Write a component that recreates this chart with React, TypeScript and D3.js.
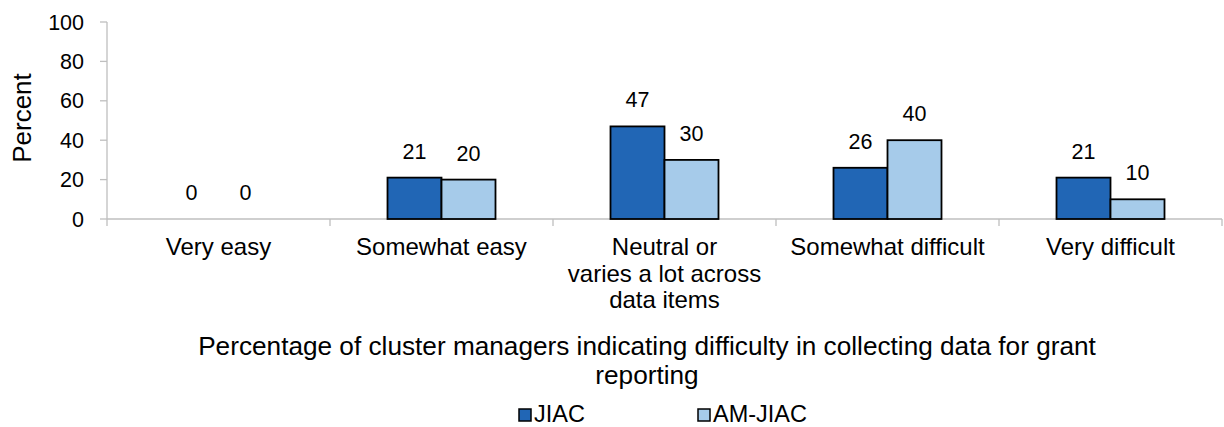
import React from "react";
import * as d3 from "d3";

const categories: string[][] = [
  ["Very easy"],
  ["Somewhat easy"],
  ["Neutral or", "varies a lot across", "data items"],
  ["Somewhat difficult"],
  ["Very difficult"],
];
const seriesNames = ["JIAC", "AM-JIAC"];
const jiac = [0, 21, 47, 26, 21];
const amJiac = [0, 20, 30, 40, 10];
const yTicks = [0, 20, 40, 60, 80, 100];
const titleLines = [
  "Percentage of cluster managers indicating difficulty in collecting data for grant",
  "reporting",
];
const colors = ["#2166B5", "#A6CBEA"];

const W = 1224;
const H = 427;
const left = 107;
const right = 1222;
const top = 22;
const bottom = 219;
const font = "'Liberation Sans', Arial, sans-serif";

export default function App() {
  const x = d3
    .scaleBand<number>()
    .domain(d3.range(categories.length))
    .range([left, right])
    .paddingInner(0)
    .paddingOuter(0);
  const inner = d3
    .scaleBand<number>()
    .domain([0, 1])
    .range([0, x.bandwidth()])
    .paddingOuter(1.065)
    .paddingInner(0);
  const y = d3.scaleLinear().domain([0, 100]).range([bottom, top]);
  const series = [jiac, amJiac];
  const axisColor = "#BFBFBF";

  return (
    <svg
      width={W}
      height={H}
      style={{ position: "absolute", left: 0, top: 0, background: "#fff" }}
      fontFamily={font}
    >
      <rect x={0} y={0} width={W} height={H} fill="#fff" />
      {/* y axis */}
      <line x1={left} x2={left} y1={top} y2={bottom} stroke={axisColor} strokeWidth={1.3} />
      {yTicks.map((t) => (
        <g key={t}>
          <line x1={left - 7} x2={left} y1={y(t)} y2={y(t)} stroke={axisColor} strokeWidth={1.3} />
          <text x={84} y={y(t) + 7.5} textAnchor="end" fontSize={21.5} fill="#000">
            {t}
          </text>
        </g>
      ))}
      {/* x axis */}
      <line x1={left} x2={right} y1={bottom} y2={bottom} stroke={axisColor} strokeWidth={1.3} />
      {d3.range(categories.length + 1).map((i) => {
        const xx = i < categories.length ? (x(i) as number) : right;
        return (
          <line key={i} x1={xx} x2={xx} y1={bottom} y2={bottom + 7} stroke={axisColor} strokeWidth={1.3} />
        );
      })}
      {/* bars */}
      {series.map((vals, s) =>
        vals.map((v, i) => {
          const bx = (x(i) as number) + (inner(s) as number);
          const bw = inner.bandwidth();
          return (
            <g key={`${s}-${i}`}>
              {v > 0 && (
                <rect
                  x={bx}
                  y={y(v)}
                  width={bw}
                  height={bottom - y(v)}
                  fill={colors[s]}
                  stroke="#000"
                  strokeWidth={1.8}
                />
              )}
              <text
                x={bx + bw / 2}
                y={y(v) - 19}
                textAnchor="middle"
                fontSize={21.5}
                fill="#000"
              >
                {v}
              </text>
            </g>
          );
        })
      )}
      {/* category labels */}
      {categories.map((lines, i) => (
        <text
          key={i}
          x={(x(i) as number) + x.bandwidth() / 2}
          y={255}
          textAnchor="middle"
          fontSize={24}
          fill="#000"
        >
          {lines.map((l, j) => (
            <tspan key={j} x={(x(i) as number) + x.bandwidth() / 2} dy={j === 0 ? 0 : 26.5}>
              {l}
            </tspan>
          ))}
        </text>
      ))}
      {/* y title */}
      <text
        transform="translate(31,118) rotate(-90)"
        textAnchor="middle"
        fontSize={26}
        fill="#000"
      >
        Percent
      </text>
      {/* x title */}
      {titleLines.map((l, j) => (
        <text key={j} x={647} y={355 + j * 29} textAnchor="middle" fontSize={26.2} fill="#000">
          {l}
        </text>
      ))}
      {/* legend */}
      {seriesNames.map((n, s) => {
        const lx = s === 0 ? 519 : 698;
        return (
          <g key={n}>
            <rect x={lx} y={409} width={12} height={12} fill={colors[s]} stroke="#000" strokeWidth={1.5} />
            <text x={lx + 15} y={422} fontSize={23.5} fill="#000">
              {n}
            </text>
          </g>
        );
      })}
    </svg>
  );
}
